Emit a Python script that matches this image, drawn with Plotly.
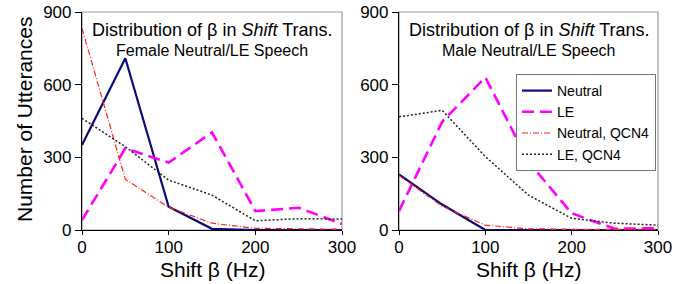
import plotly.graph_objects as go

shift_hz = [0, 50, 100, 150, 200, 250, 300]

female_neutral = [351, 709, 96, 5, 0, 0, 0]
female_le = [41, 337, 278, 403, 78, 92, 25]
female_neutral_qcn4 = [833, 209, 94, 28, 7, 5, 3]
female_le_qcn4 = [461, 344, 206, 144, 38, 47, 45]

male_neutral = [230, 105, 0, 0, 0, 0, 0]
male_le = [78, 447, 630, 282, 69, 5, 8]
male_neutral_qcn4 = [225, 98, 20, 5, 3, 2, 2]
male_le_qcn4 = [467, 494, 303, 144, 48, 28, 20]

series_names = ["Neutral", "LE", "Neutral, QCN4", "LE, QCN4"]
y_ticks = [0, 300, 600, 900]
x_ticks = [0, 100, 200, 300]

styles = [
    dict(color="#0a0a78", width=2.2, dash="solid"),
    dict(color="#ff00ff", width=2.6, dash="12px,6px"),
    dict(color="#ff2020", width=1.2, dash="6px,2px,1px,2px"),
    dict(color="#222222", width=1.5, dash="2px,2px"),
]

FONT = "Liberation Sans, Arial, sans-serif"
W, H = 688, 284

fig = go.Figure()
panels = [
    ("x", "y", [female_neutral, female_le, female_neutral_qcn4, female_le_qcn4]),
    ("x2", "y2", [male_neutral, male_le, male_neutral_qcn4, male_le_qcn4]),
]
for pi, (xa, ya, data) in enumerate(panels):
    for si, vals in enumerate(data):
        fig.add_trace(go.Scatter(
            x=shift_hz, y=vals, mode="lines", name=series_names[si],
            line=styles[si], xaxis=xa, yaxis=ya, showlegend=(pi == 1),
        ))

ydom = [1 - 230 / H, 1 - 12 / H]
axis_common = dict(
    showgrid=False, zeroline=False, showline=True, linecolor="black", linewidth=1.2,
    ticks="outside", tickcolor="black", tickwidth=1,
    tickfont=dict(family=FONT, size=17, color="black"), automargin=False,
)
xaxis_extra = dict(ticklen=4, ticklabelstandoff=-3)
yaxis_extra = dict(ticklen=6)
fig.update_layout(
    width=W, height=H, margin=dict(l=0, r=0, t=0, b=0),
    paper_bgcolor="white", plot_bgcolor="white",
    font=dict(family=FONT, color="black"),
    xaxis=dict(domain=[82 / W, 342 / W], range=[0, 300], tickvals=x_ticks, anchor="y",
               **axis_common, **xaxis_extra),
    yaxis=dict(domain=ydom, range=[0, 900], tickvals=y_ticks, anchor="x",
               **axis_common, **yaxis_extra),
    xaxis2=dict(domain=[399 / W, 658 / W], range=[0, 300], tickvals=x_ticks, anchor="y2",
                **axis_common, **xaxis_extra),
    yaxis2=dict(domain=ydom, range=[0, 900], tickvals=y_ticks, anchor="x2",
                **axis_common, **yaxis_extra),
    legend=dict(
        x=516 / W, y=1 - 74 / H, xanchor="left", yanchor="top",
        bgcolor="white", bordercolor="#777777", borderwidth=1,
        font=dict(family=FONT, size=14, color="black"),
        tracegroupgap=0, itemwidth=30,
    ),
)

# gray frame on top/right
for xr, yr in [("x domain", "y domain"), ("x2 domain", "y2 domain")]:
    fig.add_shape(type="rect", xref=xr, yref=yr, x0=0, x1=1, y0=0, y1=1,
                  line=dict(color="#999999", width=1.2), layer="below")

subtitles = ["Female Neutral/LE Speech", "Male Neutral/LE Speech"]
for xr, sub in zip(["x domain", "x2 domain"], subtitles):
    fig.add_annotation(xref=xr, yref="paper", x=0.5, y=1 - 30 / H, yanchor="middle",
                       text="Distribution of β in <i>Shift</i> Trans.", showarrow=False,
                       font=dict(family=FONT, size=18, color="black"))
    fig.add_annotation(xref=xr, yref="paper", x=0.5, y=1 - 51 / H, yanchor="middle",
                       text=sub, showarrow=False,
                       font=dict(family=FONT, size=16, color="black"))
    fig.add_annotation(xref=xr, yref="paper", x=0.5, y=1 - 269 / H, yanchor="middle",
                       text="Shift β (Hz)", showarrow=False,
                       font=dict(family=FONT, size=21, color="black"))

fig.add_annotation(xref="paper", yref="paper", x=24 / W, y=1 - 120 / H,
                   xanchor="center", yanchor="middle", textangle=-90,
                   text="Number of Utterances", showarrow=False,
                   font=dict(family=FONT, size=21, color="black"))

fig.write_html("out.html", config={"displayModeBar": False},
               post_script="document.body.style.margin='0';document.body.style.padding='0';")
